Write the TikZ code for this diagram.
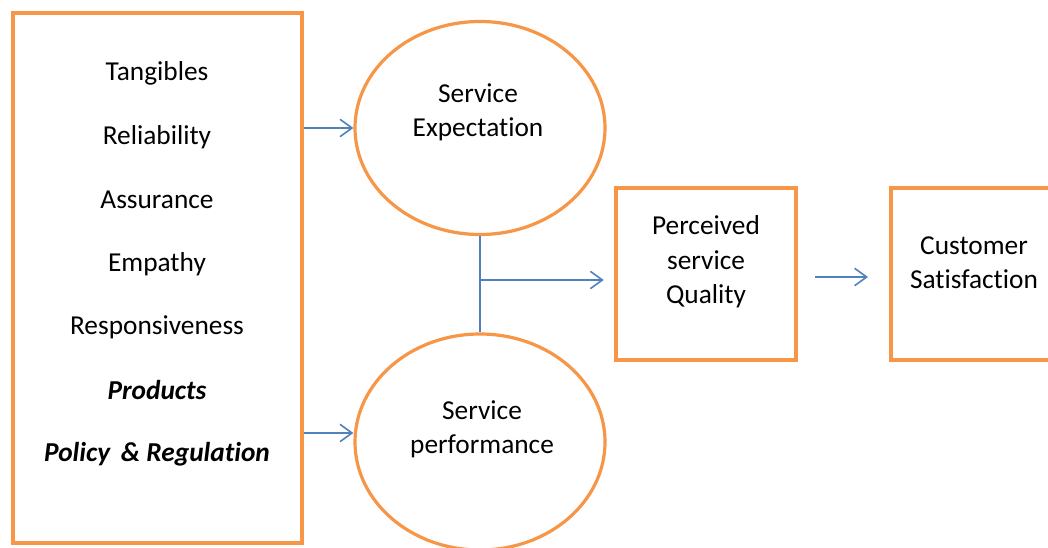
\documentclass[tikz,border=0pt]{standalone}
\usepackage{fontspec}
\setmainfont{Carlito}[Ligatures=NoCommon]
\usetikzlibrary{arrows.meta,shapes.geometric}
\definecolor{frameorange}{RGB}{247,150,70}
\definecolor{linkblue}{RGB}{79,129,189}
\tikzset{
  frame/.style={draw=frameorange, line width=2.4pt, fill=white, inner sep=0pt},
  boxframe/.style={frame, rectangle},
  ellframe/.style={frame, ellipse},
  link/.style={draw=linkblue, line width=1.2pt},
  linkarrow/.style={link, -{Straight Barb[length=9pt,width=13pt,line width=1.2pt]}},
  lbl/.style={font=\fontsize{20.5}{25.5}\selectfont, text=black, inner sep=0pt, align=center},
  lblbi/.style={lbl, font=\fontsize{20.5}{25.5}\selectfont\bfseries\itshape},
}
\begin{document}
\begin{tikzpicture}[x=0.75pt, y=-0.75pt]
  \useasboundingbox (0,0) rectangle (1048,548);
  \clip (0,0) rectangle (1048,548);
  \fill[white] (0,0) rectangle (1048,548);

  % quality dimensions
  \node[boxframe, minimum width=289*0.75pt, minimum height=530*0.75pt] (dims) at (157.5,278) {};
  \node[lbl]   (t1) at (157,73)  {Tangibles};
  \node[lbl]   (t2) at (157,137) {Reliability};
  \node[lbl]   (t3) at (157,200) {Assurance};
  \node[lbl]   (t4) at (157,264) {Empathy};
  \node[lbl]   (t5) at (157,327) {Responsiveness};
  \node[lblbi] (t6) at (157,390) {Products};
  \node[lblbi] (t7) at (157,454) {Policy \,\& Regulation};

  % expectation and performance
  \node[ellframe, minimum width=250*0.75pt, minimum height=213*0.75pt] (expect) at (480,128) {};
  \node[lbl] (expecttxt) at (478,112) {Service\\Expectation};
  \node[ellframe, minimum width=250*0.75pt, minimum height=216*0.75pt] (perform) at (480,442) {};
  \node[lbl] (performtxt) at (482,429) {Service\\performance};

  % outcomes
  \node[boxframe, minimum width=180*0.75pt, minimum height=172*0.75pt] (pq) at (706,274) {};
  \node[lbl, font=\fontsize{20.5}{26}\selectfont] (pqtxt) at (706,262) {Perceived\\service\\Quality};
  \node[boxframe, minimum width=170*0.75pt, minimum height=172*0.75pt] (cs) at (976,274) {};
  \node[lbl] (cstxt) at (974,263) {Customer\\Satisfaction};

  % connectors
  \draw[linkarrow] (dims.east |- 0,128) -- (expect.west |- 0,128);
  \draw[linkarrow] (dims.east |- 0,433) -- (perform.west |- 0,433);
  \draw[link] (expect.south) -- (perform.north);
  \coordinate (junction) at (480,280);
  \draw[linkarrow] (junction) -- ([xshift=-8pt]pq.west |- junction);
  \coordinate (pqout) at (815,277);
  \coordinate (csin) at (868,277);
  \draw[linkarrow] (pqout) -- (csin);
\end{tikzpicture}
\end{document}
